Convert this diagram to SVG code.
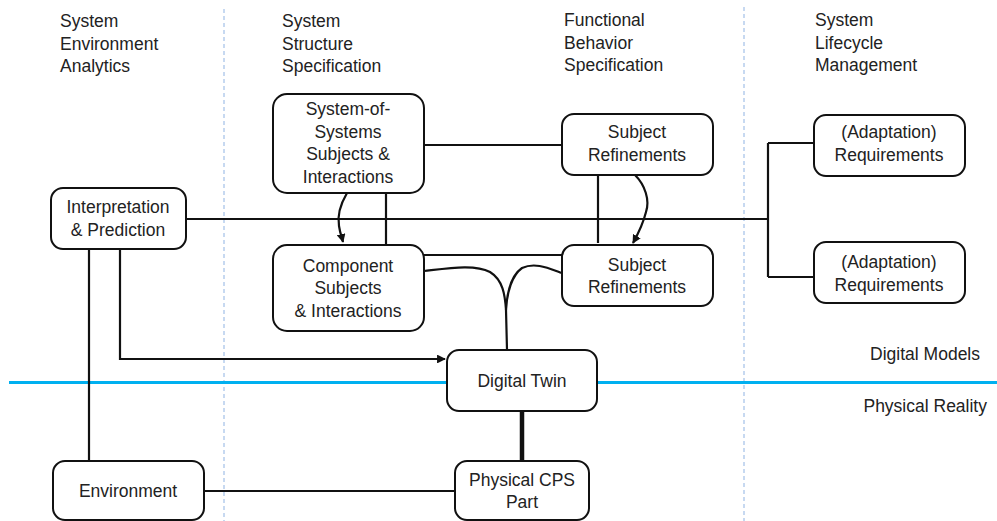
<svg xmlns="http://www.w3.org/2000/svg" width="997" height="521" viewBox="0 0 997 521">
<defs>
<style>
text{font-family:"Liberation Sans",Arial,sans-serif;font-size:17.5px;fill:#222}
.n text{text-anchor:middle}
.box{fill:#fff;stroke:#111;stroke-width:2}
.c{fill:none;stroke:#111;stroke-width:2.2}
.sep{stroke:#8fb3e3;stroke-width:1;stroke-dasharray:4 3}
</style>
<marker id="ah" viewBox="0 0 10 10" refX="9" refY="5" markerWidth="4" markerHeight="4" orient="auto" markerUnits="strokeWidth">
<path d="M0,0 L10,5 L0,10 z" fill="#111"/>
</marker>
</defs>
<rect width="997" height="521" fill="#fff"/>
<g id="separators">
<line class="sep" x1="224" y1="9" x2="224" y2="521"/>
<line class="sep" x1="744" y1="7" x2="744" y2="521"/>
<line x1="9" y1="382.5" x2="997" y2="382.5" stroke="#00b0f0" stroke-width="3"/>
</g>
<g id="headers">
<text x="60" y="27">System</text><text x="60" y="50">Environment</text><text x="60" y="72">Analytics</text>
<text x="282" y="27">System</text><text x="282" y="50">Structure</text><text x="282" y="72">Specification</text>
<text x="564" y="26">Functional</text><text x="564" y="49">Behavior</text><text x="564" y="71">Specification</text>
<text x="815" y="26">System</text><text x="815" y="49">Lifecycle</text><text x="815" y="71">Management</text>
<text x="980" y="360" text-anchor="end">Digital Models</text>
<text x="987" y="412" text-anchor="end">Physical Reality</text>
</g>
<g id="connectors">
<path class="c" d="M186,219 L768,219"/>
<path class="c" d="M768,143 L768,277 M768,143 L814,143 M768,277 L814,277"/>
<path class="c" d="M424,145 L562,145"/>
<path class="c" d="M386,193 L386,245"/>
<path class="c" d="M598,175 L598,243"/>
<path class="c" d="M424,255 L562,255"/>
<path class="c" d="M347,193 C340,205 337,215 339,226 C340,233 342,238 343,242" marker-end="url(#ah)"/>
<path class="c" d="M635,175 C645,185 650,200 646,212 C643,224 638,234 633,243" marker-end="url(#ah)"/>
<path class="c" d="M424,271 C450,268 475,264 490,272 C503,280 505,295 506,310 L507,350"/>
<path class="c" d="M562,273 C548,268 535,262 522,268 C512,275 507,292 506,310"/>
<path class="c" d="M120,249 L120,359 L445,359" marker-end="url(#ah)"/>
<path class="c" d="M89,249 L89,461"/>
<path class="c" d="M204,491 L455,491"/>
<path fill="none" stroke="#111" stroke-width="4.5" d="M522,411 L522,461"/>
</g>
<g id="interp" class="n"><rect class="box" x="51" y="188" width="135" height="61" rx="12"/><text x="118" y="213">Interpretation</text><text x="118" y="236">&amp; Prediction</text></g>
<g id="sos" class="n"><rect class="box" x="273" y="94" width="151" height="99" rx="14"/><text x="348" y="115">System-of-</text><text x="348" y="138">Systems</text><text x="348" y="160">Subjects &amp;</text><text x="348" y="183">Interactions</text></g>
<g id="component" class="n"><rect class="box" x="273" y="245" width="151" height="86" rx="14"/><text x="348" y="272">Component</text><text x="348" y="294">Subjects</text><text x="348" y="317">&amp; Interactions</text></g>
<g id="sr1" class="n"><rect class="box" x="562" y="114" width="151" height="61" rx="12"/><text x="637" y="138">Subject</text><text x="637" y="161">Refinements</text></g>
<g id="sr2" class="n"><rect class="box" x="562" y="245" width="151" height="61" rx="12"/><text x="637" y="271">Subject</text><text x="637" y="293">Refinements</text></g>
<g id="req1" class="n"><rect class="box" x="814" y="115" width="151" height="61" rx="12"/><text x="889" y="138">(Adaptation)</text><text x="889" y="161">Requirements</text></g>
<g id="req2" class="n"><rect class="box" x="814" y="242" width="151" height="61" rx="12"/><text x="889" y="268">(Adaptation)</text><text x="889" y="291">Requirements</text></g>
<g id="twin" class="n"><rect class="box" x="447" y="350" width="150" height="61" rx="12"/><text x="522" y="387">Digital Twin</text></g>
<g id="cps" class="n"><rect class="box" x="455" y="461" width="134" height="59" rx="12"/><text x="522" y="486">Physical CPS</text><text x="522" y="508">Part</text></g>
<g id="env" class="n"><rect class="box" x="53" y="461" width="151" height="59" rx="12"/><text x="128" y="497">Environment</text></g>
</svg>
